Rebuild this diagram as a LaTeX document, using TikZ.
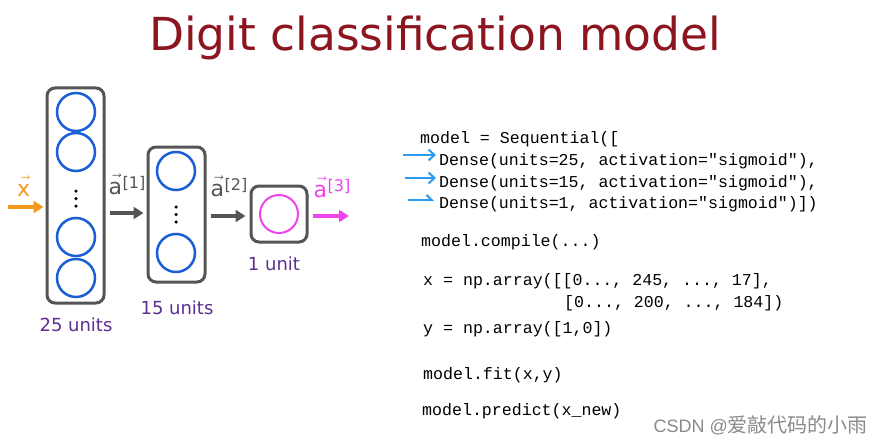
\documentclass[tikz,border=0pt]{standalone}
\usepackage{fontspec}
\setmainfont{DejaVu Sans}
\setmonofont{Liberation Mono}
\newfontfamily\cjk{Noto Sans CJK SC}
\newfontfamily\wmlatin{Liberation Sans}
\usetikzlibrary{arrows.meta}
\definecolor{titlered}{HTML}{8C1520}
\definecolor{boxgray}{HTML}{555555}
\definecolor{nodeblue}{HTML}{1A5FD6}
\definecolor{mag}{HTML}{EE44EE}
\definecolor{orng}{HTML}{F39A1E}
\definecolor{purp}{HTML}{5E2D91}
\definecolor{codeblue}{HTML}{2B9CF0}
\definecolor{wmgray}{HTML}{8A8A8A}
\newcommand{\vlab}[2]{$\vec{\hbox{\rule{0pt}{1.25ex}#1}}$\kern0.5pt\raisebox{6pt}{\fontsize{16}{16}\selectfont #2}}
\begin{document}
\begin{tikzpicture}[x=1pt,y=-1pt,
  layerbox/.style={draw=boxgray, line width=3, rounded corners=8, fill=white, inner sep=0},
  neuron/.style={circle, draw=nodeblue, line width=2.5, minimum size=38, inner sep=0},
  outneuron/.style={circle, draw=mag, line width=2, minimum size=38, inner sep=0},
  dotmark/.style={circle, fill=black, minimum size=3.5, inner sep=0},
  flow/.style={line width=4, -{Triangle[length=10,width=12]}},
  lbl/.style={inner sep=0, font=\fontsize{22}{22}\selectfont},
  unitlbl/.style={inner sep=0, text=purp, font=\fontsize{18}{18}\selectfont},
  code/.style={anchor=base west, inner sep=0, font=\ttfamily\fontsize{16.6}{16.6}\selectfont},
  ptr/.style={draw=codeblue, line width=2, -{Straight Barb[length=6,width=11]}},
  ptrhalf/.style={draw=codeblue, line width=2, -{Straight Barb[left,length=5,width=10]}}
]
\fill[white] (0,0) rectangle (884,444);
\useasboundingbox (0,0) rectangle (884,444);

% title
\node[anchor=base, inner sep=0, text=titlered, font=\fontsize{45.5}{45.5}\selectfont] (title) at (435,51) {Digit classification model};

% layer 1
\node[layerbox, minimum width=57, minimum height=215] (L1) at (75.5,195.5) {};
\node[neuron] (n11) at (76,112) {};
\node[neuron] (n12) at (76,152) {};
\node[dotmark] (d11) at (76,191) {};
\node[dotmark] (d12) at (76,198.5) {};
\node[dotmark] (d13) at (76,206) {};
\node[neuron] (n13) at (76,237) {};
\node[neuron] (n14) at (76,278) {};
\node[unitlbl] (u1) at (76,325) {25 units};

% layer 2
\node[layerbox, minimum width=57, minimum height=135] (L2) at (176.5,214.5) {};
\node[neuron] (n21) at (176,171) {};
\node[dotmark] (d21) at (176,207) {};
\node[dotmark] (d22) at (176,214.5) {};
\node[dotmark] (d23) at (176,222) {};
\node[neuron] (n22) at (176,253) {};
\node[unitlbl] (u2) at (177,308) {15 units};

% layer 3
\node[layerbox, minimum width=56, minimum height=56] (L3) at (279,214) {};
\node[outneuron] (n31) at (279,214) {};
\node[unitlbl] (u3) at (274,264) {1 unit};

% arrows
\coordinate (xin) at (8,207);
\coordinate (a1y) at (0,213);
\coordinate (a2y) at (0,216);
\coordinate (aout) at (349,216);
\draw[flow, draw=orng, fill=orng] (xin) -- ([xshift=-2]xin -| L1.west);
\draw[flow, draw=boxgray, fill=boxgray] ([xshift=4]L1.east |- a1y) -- ([xshift=-3]L2.west |- a1y);
\draw[flow, draw=boxgray, fill=boxgray] ([xshift=4]L2.east |- a2y) -- ([xshift=-4]L3.west |- a2y);
\draw[flow, draw=mag, fill=mag] ([xshift=4]L3.east |- aout) -- (aout);

\node[lbl, text=orng] (lx) at (24,186) {\vlab{x}{}};
\node[lbl, text=boxgray] (la1) at (127,184) {\vlab{a}{[1]}};
\node[lbl, text=boxgray] (la2) at (229,186) {\vlab{a}{[2]}};
\node[lbl, text=mag] (la3) at (332,187) {\vlab{a}{[3]}};

% code
\node[code] (c1) at (420,143) {model = Sequential([};
\node[code] (c2) at (439,165) {Dense(units=25, activation="sigmoid"),};
\node[code] (c3) at (439,187) {Dense(units=15, activation="sigmoid"),};
\node[code] (c4) at (439,208) {Dense(units=1, activation="sigmoid")])};
\node[code] (c5) at (421,246) {model.compile(...)};
\node[code] (c6) at (423,285) {x = np.array([[0..., 245, ..., 17],};
\node[code] (c7) at (564,307) {[0..., 200, ..., 184])};
\node[code] (c8) at (423,333) {y = np.array([1,0])};
\node[code] (c9) at (423,379) {model.fit(x,y)};
\node[code] (c10) at (422,415) {model.predict(x\_new)};

\coordinate (p1) at (403,155);
\coordinate (p2) at (405,178);
\coordinate (p3) at (408,200);
\draw[ptr] (p1) -- ([xshift=-3]c2.west |- p1);
\draw[ptr] (p2) -- ([xshift=-3]c3.west |- p2);
\draw[ptrhalf] (p3) -- ([xshift=-5]c4.west |- p3);

% watermark
\node[anchor=east, inner sep=0, text=wmgray] (wm) at (868,425) {{\wmlatin\fontsize{18}{18}\selectfont CSDN @}{\cjk\fontsize{20}{20}\selectfont 爱敲代码的小雨}};
\end{tikzpicture}
\end{document}
